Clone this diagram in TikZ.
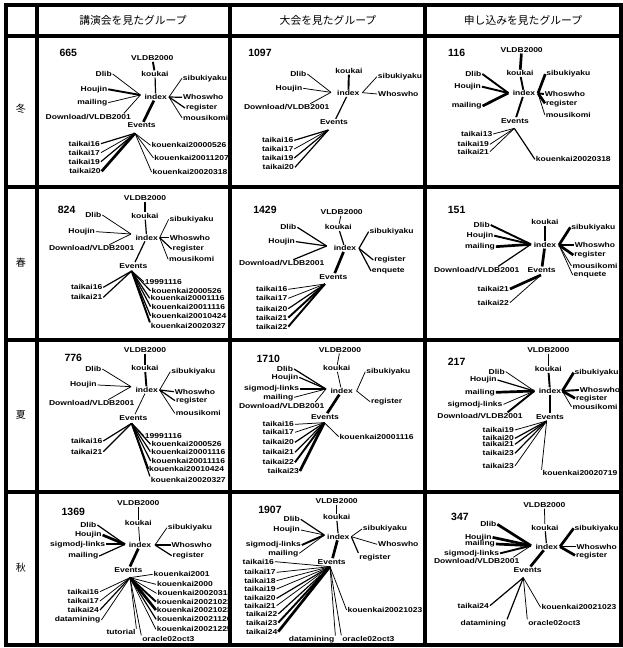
\documentclass[tikz,border=0pt]{standalone}
\usepackage{fontspec}
\setmainfont{Liberation Sans}
\newfontfamily\labfont{Liberation Sans}[FakeStretch=1.2]
\newfontfamily\numfont{Liberation Sans}
\newfontfamily\cjkfont{Noto Sans CJK JP}
\tikzset{
 lab/.style={font=\labfont\bfseries\fontsize{7.1}{8}\selectfont, inner sep=0.8pt},
 num/.style={font=\numfont\bfseries\fontsize{10.5}{11}\selectfont, inner sep=0pt},
 e1/.style={line width=0.75pt},
 e2/.style={line width=1.2pt},
 e3/.style={line width=1.9pt},
 e4/.style={line width=2.7pt},
 gridline/.style={line width=3.4pt},
 hdr/.style={font=\cjkfont\fontsize{10.8}{12}\selectfont},
 rowl/.style={font=\cjkfont\fontsize{10}{11}\selectfont},
 cell/.style={x=0.3333pt,y=-0.3333pt}
}
\begin{document}
\begin{tikzpicture}[x=1pt,y=-1pt]
\useasboundingbox (0,0) rectangle (623,648);
% grid
\foreach \yy in {5,36,187,340,492,645} \draw[gridline] (4,\yy) -- (623,\yy);
\foreach \xx in {6,37,230,425,621} \draw[gridline] (\xx,4) -- (\xx,646);
% headers
\node[hdr] (h1) at (133,20) {講演会を見たグループ};
\node[hdr] (h2) at (328,20) {大会を見たグループ};
\node[hdr] (h3) at (523,20) {申し込みを見たグループ};
\node[rowl] (r1) at (21,109) {冬};
\node[rowl] (r2) at (21,263) {春};
\node[rowl] (r3) at (21,415) {夏};
\node[rowl] (r4) at (21,568) {秋};

% ===== Cell A (winter, col 1)
\begin{scope}[shift={(35,35)},cell]
\node[num] (A-n) at (100,55) {665};
\node[lab] (A-vldb) at (352,70) {VLDB2000};
\node[lab] (A-kou) at (360,117) {koukai};
\node[lab] (A-dlib) at (206,117) {Dlib};
\node[lab] (A-hou) at (177,163) {Houjin};
\node[lab] (A-mail) at (172,203) {mailing};
\node[lab] (A-dl) at (160,246) {Download/VLDB2001};
\node[lab] (A-idx) at (362,186) {index};
\node[lab] (A-sibu) at (510,130) {sibukiyaku};
\node[lab] (A-who) at (505,187) {Whoswho};
\node[lab] (A-reg) at (500,219) {register};
\node[lab] (A-mou) at (512,249) {mousikomi};
\node[lab] (A-ev) at (320,271) {Events};
\node[lab] (A-t16) at (148,326) {taikai16};
\node[lab] (A-t17) at (148,353) {taikai17};
\node[lab] (A-t19) at (148,380) {taikai19};
\node[lab] (A-t20) at (150,409) {taikai20};
\node[lab] (A-k1) at (462,331) {kouenkai20000526};
\node[lab] (A-k2) at (470,369) {kouenkai20011207};
\node[lab] (A-k3) at (465,411) {kouenkai20020318};
\coordinate (A-iL) at (316,180);
\coordinate (A-iR) at (402,186);
\coordinate (A-eH) at (300,295);
\draw[e3] (A-vldb) -- (A-kou);
\draw[e2] (A-kou) -- (A-idx);
\draw[e1] (A-dlib.east) -- (A-iL);
\draw[e3] (A-hou.east) -- (A-iL);
\draw[e1] (A-mail.east) -- (A-iL);
\draw[e1] ([xshift=-8pt]A-dl.north east) -- (A-iL);
\draw[e1] (A-iR) -- (A-sibu.west);
\draw[e2] (A-iR) -- (A-who.west);
\draw[e2] (A-iR) -- (A-reg.west);
\draw[e1] (A-iR) -- (A-mou.west);
\draw[e4] (A-idx) -- (A-ev);
\draw[e2] (A-eH) -- (A-t16.east);
\draw[e1] (A-eH) -- (A-t17.east);
\draw[e2] (A-eH) -- (A-t19.east);
\draw[e4] (A-eH) -- (A-t20.east);
\draw[e1] (A-eH) -- (A-k1.west);
\draw[e1] (A-eH) -- (A-k2.west);
\draw[e1] (A-eH) -- (A-k3.west);
\end{scope}

% ===== Cell B (winter, col 2)
\begin{scope}[shift={(230,35)},cell]
\node[num] (B-n) at (90,55) {1097};
\node[lab] (B-kou) at (357,108) {koukai};
\node[lab] (B-dlib) at (205,117) {Dlib};
\node[lab] (B-hou) at (177,160) {Houjin};
\node[lab] (B-dl) at (170,217) {Download/VLDB2001};
\node[lab] (B-idx) at (355,175) {index};
\node[lab] (B-sibu) at (510,125) {sibukiyaku};
\node[lab] (B-who) at (505,177) {Whoswho};
\node[lab] (B-ev) at (312,262) {Events};
\node[lab] (B-t16) at (143,316) {taikai16};
\node[lab] (B-t17) at (143,342) {taikai17};
\node[lab] (B-t19) at (143,369) {taikai19};
\node[lab] (B-t20) at (145,397) {taikai20};
\coordinate (B-iL) at (303,172);
\coordinate (B-iR) at (397,173);
\coordinate (B-eH) at (295,285);
\draw[e3] (B-kou) -- (B-idx);
\draw[e1] (B-dlib.east) -- (B-iL);
\draw[e1] (B-hou.east) -- (B-iL);
\draw[e1] ([xshift=-20pt]B-dl.north east) -- (B-iL);
\draw[e1] (B-iR) -- (B-sibu.west);
\draw[e1] (B-iR) -- (B-who.west);
\draw[e2] (B-idx) -- (B-ev);
\draw[e2] (B-eH) -- (B-t16.east);
\draw[e1] (B-eH) -- (B-t17.east);
\draw[e2] (B-eH) -- (B-t19.east);
\draw[e2] (B-eH) -- (B-t20.east);
\end{scope}

% ===== Cell C (winter, col 3)
\begin{scope}[shift={(425,35)},cell]
\node[num] (C-n) at (95,55) {116};
\node[lab] (C-vldb) at (290,45) {VLDB2000};
\node[lab] (C-kou) at (285,115) {koukai};
\node[lab] (C-dlib) at (145,117) {Dlib};
\node[lab] (C-hou) at (128,155) {Houjin};
\node[lab] (C-mail) at (125,213) {mailing};
\node[lab] (C-idx) at (297,175) {index};
\node[lab] (C-sibu) at (430,117) {sibukiyaku};
\node[lab] (C-who) at (420,177) {Whoswho};
\node[lab] (C-reg) at (410,205) {register};
\node[lab] (C-mou) at (430,240) {mousikomi};
\node[lab] (C-ev) at (270,257) {Events};
\node[lab] (C-t13) at (155,297) {taikai13};
\node[lab] (C-t19) at (145,328) {taikai19};
\node[lab] (C-t21) at (145,350) {taikai21};
\node[lab] (C-k) at (445,373) {kouenkai20020318};
\coordinate (C-iL) at (250,174);
\coordinate (C-iR) at (339,175);
\coordinate (C-eH) at (268,280);
\draw[e4] (C-vldb) -- (C-kou);
\draw[e3] (C-kou) -- (C-idx);
\draw[e3] (C-dlib.east) -- (C-iL);
\draw[e3] (C-hou.east) -- (C-iL);
\draw[e4] (C-mail.east) -- (C-iL);
\draw[e4] (C-iR) -- (C-sibu.west);
\draw[e3] (C-iR) -- (C-who.west);
\draw[e4] (C-iR) -- (C-reg.west);
\draw[e1] (C-iR) -- (C-mou.west);
\draw[e3] (C-idx) -- (C-ev);
\draw[e1] (C-eH) -- (C-t13.east);
\draw[e1] (C-eH) -- (C-t19.east);
\draw[e1] (C-eH) -- (C-t21.east);
\draw[e2] (C-eH) -- (C-k.west);
\end{scope}

% ===== Cell D (spring, col 1)
\begin{scope}[shift={(35,190)},cell]
\node[num] (D-n) at (95,60) {824};
\node[lab] (D-vldb) at (330,25) {VLDB2000};
\node[lab] (D-kou) at (330,78) {koukai};
\node[lab] (D-dlib) at (175,75) {Dlib};
\node[lab] (D-hou) at (140,125) {Houjin};
\node[lab] (D-dl) at (170,175) {Download/VLDB2001};
\node[lab] (D-idx) at (335,143) {index};
\node[lab] (D-sibu) at (470,88) {sibukiyaku};
\node[lab] (D-who) at (465,143) {Whoswho};
\node[lab] (D-reg) at (460,177) {register};
\node[lab] (D-mou) at (470,208) {mousikomi};
\node[lab] (D-ev) at (295,227) {Events};
\node[lab] (D-k0) at (385,275) {19991116};
\node[lab] (D-k1) at (455,303) {kouenkai2000526};
\node[lab] (D-k2) at (458,325) {kouenkai20001116};
\node[lab] (D-k3) at (460,350) {kouenkai20011116};
\node[lab] (D-k4) at (462,378) {kouenkai20010424};
\node[lab] (D-k5) at (460,408) {kouenkai20020327};
\node[lab] (D-t16) at (155,292) {taikai16};
\node[lab] (D-t21) at (155,322) {taikai21};
\coordinate (D-iL) at (288,132);
\coordinate (D-iR) at (374,143);
\coordinate (D-eH) at (290,243);
\draw[e2] (D-vldb) -- (D-kou);
\draw[e2] (D-kou) -- (D-idx);
\draw[e1] (D-dlib.east) -- (D-iL);
\draw[e1] (D-hou.east) -- (D-iL);
\draw[e1] ([xshift=-26pt]D-dl.north east) -- (D-iL);
\draw[e1] (D-iR) -- (D-sibu.west);
\draw[e2] (D-iR) -- (D-who.west);
\draw[e2] (D-iR) -- (D-reg.west);
\draw[e1] (D-iR) -- (D-mou.west);
\draw[e2] (D-idx) -- (D-ev);
\draw[e2] (D-eH) -- (D-t16.east);
\draw[e2] (D-eH) -- (D-t21.east);
\draw[e1] (D-eH) -- (D-k0.west);
\draw[e2] (D-eH) -- (D-k1.west);
\draw[e2] (D-eH) -- (D-k2.west);
\draw[e2] (D-eH) -- (D-k3.west);
\draw[e2] (D-eH) -- (D-k4.west);
\draw[e3] (D-eH) -- (D-k5.north west);
\end{scope}

% ===== Cell E (spring, col 2)
\begin{scope}[shift={(230,190)},cell]
\node[num] (E-n) at (105,60) {1429};
\node[lab] (E-vldb) at (335,67) {VLDB2000};
\node[lab] (E-kou) at (325,112) {koukai};
\node[lab] (E-dlib) at (175,112) {Dlib};
\node[lab] (E-hou) at (155,155) {Houjin};
\node[lab] (E-dl) at (155,220) {Download/VLDB2001};
\node[lab] (E-idx) at (345,175) {index};
\node[lab] (E-sibu) at (485,125) {sibukiyaku};
\node[lab] (E-reg) at (480,210) {register};
\node[lab] (E-enq) at (475,243) {enquete};
\node[lab] (E-ev) at (310,260) {Events};
\node[lab] (E-t16) at (125,298) {taikai16};
\node[lab] (E-t17) at (125,325) {taikai17};
\node[lab] (E-t20) at (125,356) {taikai20};
\node[lab] (E-t21) at (125,383) {taikai21};
\node[lab] (E-t22) at (125,410) {taikai22};
\coordinate (E-iL) at (290,168);
\coordinate (E-iR) at (387,175);
\coordinate (E-eH) at (285,282);
\draw[e1] (E-vldb) -- (E-kou);
\draw[e2] (E-kou) -- (E-idx);
\draw[e2] (E-dlib.east) -- (E-iL);
\draw[e2] (E-hou.east) -- (E-iL);
\draw[e2] ([xshift=-32pt]E-dl.north east) -- (E-iL);
\draw[e2] (E-iR) -- (E-sibu.west);
\draw[e2] (E-iR) -- (E-reg.west);
\draw[e2] (E-iR) -- (E-enq.west);
\draw[e4] (E-idx) -- (E-ev);
\draw[e1] (E-eH) -- (E-t16.east);
\draw[e1] (E-eH) -- (E-t17.east);
\draw[e2] (E-eH) -- (E-t20.east);
\draw[e3] (E-eH) -- (E-t21.east);
\draw[e3] (E-eH) -- (E-t22.east);
\end{scope}

% ===== Cell F (spring, col 3)
\begin{scope}[shift={(425,190)},cell]
\node[num] (F-n) at (95,60) {151};
\node[lab] (F-kou) at (360,97) {koukai};
\node[lab] (F-dlib) at (170,105) {Dlib};
\node[lab] (F-hou) at (165,137) {Houjin};
\node[lab] (F-mail) at (165,170) {mailing};
\node[lab] (F-dl) at (155,240) {Download/VLDB2001};
\node[lab] (F-idx) at (360,165) {index};
\node[lab] (F-sibu) at (505,112) {sibukiyaku};
\node[lab] (F-who) at (510,165) {Whoswho};
\node[lab] (F-reg) at (495,195) {register};
\node[lab] (F-mou) at (510,228) {mousikomi};
\node[lab] (F-enq) at (495,255) {enquete};
\node[lab] (F-ev) at (350,240) {Events};
\node[lab] (F-t21) at (205,297) {taikai21};
\node[lab] (F-t22) at (205,338) {taikai22};
\coordinate (F-iL) at (318,163);
\coordinate (F-iR) at (402,165);
\coordinate (F-eH) at (348,255);
\draw[e2] (F-kou) -- (F-idx);
\draw[e3] (F-dlib.east) -- (F-iL);
\draw[e3] (F-hou.east) -- (F-iL);
\draw[e4] (F-mail.east) -- (F-iL);
\draw[e2] ([xshift=-22pt]F-dl.north east) -- (F-iL);
\draw[e4] (F-iR) -- (F-sibu.west);
\draw[e3] (F-iR) -- (F-who.west);
\draw[e4] (F-iR) -- (F-reg.west);
\draw[e1] (F-iR) -- (F-mou.west);
\draw[e1] (F-iR) -- (F-enq.west);
\draw[e4] (F-idx) -- (F-ev);
\draw[e4] (F-eH) -- (F-t21.east);
\draw[e1] (F-eH) -- (F-t22.east);
\end{scope}

% ===== Cell G (summer, col 1)
\begin{scope}[shift={(35,335)},cell]
\node[num] (G-n) at (115,70) {776};
\node[lab] (G-vldb) at (330,45) {VLDB2000};
\node[lab] (G-kou) at (330,100) {koukai};
\node[lab] (G-dlib) at (175,102) {Dlib};
\node[lab] (G-hou) at (145,150) {Houjin};
\node[lab] (G-dl) at (170,205) {Download/VLDB2001};
\node[lab] (G-idx) at (335,165) {index};
\node[lab] (G-sibu) at (475,110) {sibukiyaku};
\node[lab] (G-who) at (480,170) {Whoswho};
\node[lab] (G-reg) at (470,197) {register};
\node[lab] (G-mou) at (490,235) {mousikomi};
\node[lab] (G-ev) at (295,248) {Events};
\node[lab] (G-k0) at (385,302) {19991116};
\node[lab] (G-k1) at (455,328) {kouenkai2000526};
\node[lab] (G-k2) at (460,350) {kouenkai20001116};
\node[lab] (G-k3) at (460,378) {kouenkai20011116};
\node[lab] (G-k4) at (455,402) {kouenkai20010424};
\node[lab] (G-k5) at (460,435) {kouenkai20020327};
\node[lab] (G-t16) at (155,318) {taikai16};
\node[lab] (G-t21) at (155,350) {taikai21};
\coordinate (G-iL) at (288,155);
\coordinate (G-iR) at (374,165);
\coordinate (G-eH) at (290,265);
\draw[e3] (G-vldb) -- (G-kou);
\draw[e3] (G-kou) -- (G-idx);
\draw[e1] (G-dlib.east) -- (G-iL);
\draw[e1] (G-hou.east) -- (G-iL);
\draw[e1] ([xshift=-27pt]G-dl.north east) -- (G-iL);
\draw[e1] (G-iR) -- (G-sibu.west);
\draw[e2] (G-iR) -- (G-who.west);
\draw[e2] (G-iR) -- (G-reg.west);
\draw[e1] (G-iR) -- (G-mou.west);
\draw[e1] (G-idx) -- (G-ev);
\draw[e2] (G-eH) -- (G-t16.east);
\draw[e2] (G-eH) -- (G-t21.east);
\draw[e1] (G-eH) -- (G-k0.west);
\draw[e2] (G-eH) -- (G-k1.west);
\draw[e2] (G-eH) -- (G-k2.west);
\draw[e2] (G-eH) -- (G-k3.west);
\draw[e3] (G-eH) -- (G-k4.west);
\draw[e2] (G-eH) -- (G-k5.north west);
\end{scope}

% ===== Cell H (summer, col 2)
\begin{scope}[shift={(230,335)},cell]
\node[num] (H-n) at (115,72) {1710};
\node[lab] (H-vldb) at (330,45) {VLDB2000};
\node[lab] (H-kou) at (320,100) {koukai};
\node[lab] (H-dlib) at (165,102) {Dlib};
\node[lab] (H-hou) at (165,127) {Houjin};
\node[lab] (H-sig) at (125,162) {sigmodj-links};
\node[lab] (H-mail) at (145,187) {mailing};
\node[lab] (H-dl) at (155,212) {Download/VLDB2001};
\node[lab] (H-idx) at (335,168) {index};
\node[lab] (H-sibu) at (475,110) {sibukiyaku};
\node[lab] (H-reg) at (470,200) {register};
\node[lab] (H-ev) at (285,245) {Events};
\node[lab] (H-t16) at (145,268) {taikai16};
\node[lab] (H-t17) at (145,292) {taikai17};
\node[lab] (H-t20) at (145,322) {taikai20};
\node[lab] (H-t21) at (145,352) {taikai21};
\node[lab] (H-t22) at (145,382) {taikai22};
\node[lab] (H-t23) at (160,408) {taikai23};
\node[lab] (H-k) at (440,305) {kouenkai20001116};
\coordinate (H-iL) at (288,162);
\coordinate (H-iR) at (380,168);
\coordinate (H-eH) at (283,263);
\draw[e1] (H-vldb) -- (H-kou);
\draw[e1] (H-kou) -- (H-idx);
\draw[e2] (H-dlib.east) -- (H-iL);
\draw[e2] (H-hou.east) -- (H-iL);
\draw[e3] (H-sig.east) -- (H-iL);
\draw[e1] (H-mail.east) -- (H-iL);
\draw[e1] ([xshift=-10pt]H-dl.north east) -- (H-iL);
\draw[e1] (H-iR) -- (H-sibu.west);
\draw[e1] (H-iR) -- (H-reg.west);
\draw[e4] (H-idx) -- (H-ev);
\draw[e1] (H-eH) -- (H-t16.east);
\draw[e1] (H-eH) -- (H-t17.east);
\draw[e2] (H-eH) -- (H-t20.east);
\draw[e2] (H-eH) -- (H-t21.east);
\draw[e3] (H-eH) -- (H-t22.east);
\draw[e4] (H-eH) -- (H-t23.east);
\draw[e1] (H-eH) -- (H-k.west);
\end{scope}

% ===== Cell I (summer, col 3)
\begin{scope}[shift={(425,335)},cell]
\node[num] (I-n) at (95,80) {217};
\node[lab] (I-vldb) at (370,45) {VLDB2000};
\node[lab] (I-kou) at (370,103) {koukai};
\node[lab] (I-dlib) at (215,110) {Dlib};
\node[lab] (I-hou) at (175,135) {Houjin};
\node[lab] (I-mail) at (165,172) {mailing};
\node[lab] (I-sig) at (150,208) {sigmodj-links};
\node[lab] (I-dl) at (165,243) {Download/VLDB2001};
\node[lab] (I-idx) at (375,168) {index};
\node[lab] (I-sibu) at (515,113) {sibukiyaku};
\node[lab] (I-who) at (525,165) {Whoswho};
\node[lab] (I-reg) at (500,190) {register};
\node[lab] (I-mou) at (510,215) {mousikomi};
\node[lab] (I-ev) at (375,245) {Events};
\node[lab] (I-t19) at (220,285) {taikai19};
\node[lab] (I-t20) at (220,310) {taikai20};
\node[lab] (I-t21) at (220,328) {taikai21};
\node[lab] (I-t23a) at (220,355) {taikai23};
\node[lab] (I-t23b) at (220,393) {taikai23};
\node[lab] (I-k) at (465,415) {kouenkai20020719};
\coordinate (I-iL) at (328,168);
\coordinate (I-iR) at (412,168);
\coordinate (I-eH) at (365,258);
\draw[e1] (I-vldb) -- (I-kou);
\draw[e3] (I-kou) -- (I-idx);
\draw[e1] (I-dlib.east) -- (I-iL);
\draw[e2] (I-hou.east) -- (I-iL);
\draw[e4] (I-mail.east) -- (I-iL);
\draw[e1] (I-sig.east) -- (I-iL);
\draw[e3] ([xshift=-16pt]I-dl.north east) -- (I-iL);
\draw[e4] (I-iR) -- (I-sibu.west);
\draw[e3] (I-iR) -- (I-who.west);
\draw[e4] (I-iR) -- (I-reg.west);
\draw[e1] (I-iR) -- (I-mou.west);
\draw[e4] (I-idx) -- (I-ev);
\draw[e1] (I-eH) -- (I-t19.east);
\draw[e2] (I-eH) -- (I-t20.east);
\draw[e2] (I-eH) -- (I-t21.east);
\draw[e2] (I-eH) -- (I-t23a.east);
\draw[e1] (I-eH) -- (I-t23b.east);
\draw[e1] (I-eH) -- (I-k.north west);
\end{scope}

% ===== Cell J (autumn, col 1)
\begin{scope}[shift={(35,485)},cell]
\node[num] (J-n) at (115,80) {1369};
\node[lab] (J-vldb) at (310,55) {VLDB2000};
\node[lab] (J-kou) at (310,115) {koukai};
\node[lab] (J-dlib) at (160,120) {Dlib};
\node[lab] (J-hou) at (160,150) {Houjin};
\node[lab] (J-sig) at (128,178) {sigmodj-links};
\node[lab] (J-mail) at (145,213) {mailing};
\node[lab] (J-idx) at (315,180) {index};
\node[lab] (J-sibu) at (465,128) {sibukiyaku};
\node[lab] (J-who) at (470,180) {Whoswho};
\node[lab] (J-reg) at (460,212) {register};
\node[lab] (J-ev) at (280,255) {Events};
\node[lab] (J-ka) at (440,268) {kouenkai2001};
\node[lab] (J-kb) at (450,298) {kouenkai2000};
\node[lab] (J-kc) at (480,325) {kouenkai20020318};
\node[lab] (J-kd) at (478,350) {kouenkai20021021};
\node[lab] (J-ke) at (478,375) {kouenkai20021023};
\node[lab] (J-kf) at (478,403) {kouenkai20021126};
\node[lab] (J-kg) at (478,433) {kouenkai20021225};
\node[lab] (J-ora) at (400,462) {oracle02oct3};
\node[lab] (J-tut) at (258,442) {tutorial};
\node[lab] (J-t16) at (145,320) {taikai16};
\node[lab] (J-t17) at (145,348) {taikai17};
\node[lab] (J-t24) at (145,375) {taikai24};
\node[lab] (J-dm) at (128,405) {datamining};
\coordinate (J-iL) at (270,178);
\coordinate (J-iR) at (360,180);
\coordinate (J-eH) at (285,278);
\draw[e1] (J-vldb) -- (J-kou);
\draw[e1] (J-kou) -- (J-idx);
\draw[e2] (J-dlib.east) -- (J-iL);
\draw[e4] (J-hou.east) -- (J-iL);
\draw[e3] (J-sig.east) -- (J-iL);
\draw[e2] (J-mail.east) -- (J-iL);
\draw[e1] (J-iR) -- (J-sibu.west);
\draw[e2] (J-iR) -- (J-who.west);
\draw[e2] (J-iR) -- (J-reg.west);
\draw[e4] (J-idx) -- (J-ev);
\draw[e1] (J-eH) -- (J-ka.west);
\draw[e1] (J-eH) -- (J-kb.west);
\draw[e1] (J-eH) -- (J-kc.west);
\draw[e3] (J-eH) -- (J-kd.west);
\draw[e4] (J-eH) -- (J-ke.west);
\draw[e2] (J-eH) -- (J-kf.west);
\draw[e1] (J-eH) -- (J-kg.west);
\draw[e1] (J-eH) -- (J-ora.north west);
\draw[e1] (J-eH) -- (J-tut.north east);
\draw[e1] (J-eH) -- (J-t16.east);
\draw[e1] (J-eH) -- (J-t17.east);
\draw[e2] (J-eH) -- (J-t24.east);
\draw[e1] (J-eH) -- (J-dm.east);
\end{scope}

% ===== Cell K (autumn, col 2)
\begin{scope}[shift={(230,485)},cell]
\node[num] (K-n) at (120,75) {1907};
\node[lab] (K-vldb) at (320,48) {VLDB2000};
\node[lab] (K-kou) at (320,97) {koukai};
\node[lab] (K-dlib) at (185,103) {Dlib};
\node[lab] (K-hou) at (170,135) {Houjin};
\node[lab] (K-sig) at (130,180) {sigmodj-links};
\node[lab] (K-mail) at (160,205) {mailing};
\node[lab] (K-idx) at (325,155) {index};
\node[lab] (K-sibu) at (465,132) {sibukiyaku};
\node[lab] (K-who) at (505,178) {Whoswho};
\node[lab] (K-reg) at (435,217) {register};
\node[lab] (K-ev) at (305,230) {Events};
\node[lab] (K-t16) at (85,230) {taikai16};
\node[lab] (K-t17) at (90,262) {taikai17};
\node[lab] (K-t18) at (90,287) {taikai18};
\node[lab] (K-t19) at (90,312) {taikai19};
\node[lab] (K-t20) at (90,340) {taikai20};
\node[lab] (K-t21) at (90,362) {taikai21};
\node[lab] (K-t22) at (95,387) {taikai22};
\node[lab] (K-t23) at (95,413) {taikai23};
\node[lab] (K-t24) at (95,440) {taikai24};
\node[lab] (K-k) at (465,375) {kouenkai20021023};
\node[lab] (K-dm) at (245,465) {datamining};
\node[lab] (K-ora) at (415,462) {oracle02oct3};
\coordinate (K-iL) at (283,150);
\coordinate (K-iR) at (364,155);
\coordinate (K-eH) at (300,245);
\draw[e1] (K-vldb) -- (K-kou);
\draw[e2] (K-kou) -- (K-idx);
\draw[e2] (K-dlib.east) -- (K-iL);
\draw[e1] (K-hou.east) -- (K-iL);
\draw[e3] (K-sig.east) -- (K-iL);
\draw[e1] (K-mail.east) -- (K-iL);
\draw[e1] (K-iR) -- (K-sibu.west);
\draw[e1] (K-iR) -- (K-who.west);
\draw[e2] (K-iR) -- (K-reg.north west);
\draw[e4] (K-idx) -- (K-ev);
\draw[e1] (K-eH) -- (K-t16.east);
\draw[e1] (K-eH) -- (K-t17.east);
\draw[e1] (K-eH) -- (K-t18.east);
\draw[e1] (K-eH) -- (K-t19.east);
\draw[e2] (K-eH) -- (K-t20.east);
\draw[e1] (K-eH) -- (K-t21.east);
\draw[e2] (K-eH) -- (K-t22.east);
\draw[e3] (K-eH) -- (K-t23.east);
\draw[e4] (K-eH) -- (K-t24.east);
\draw[e1] (K-eH) -- (K-k.west);
\draw[e1] (K-eH) -- (K-dm.north east);
\draw[e1] (K-eH) -- (K-ora.north west);
\end{scope}

% ===== Cell L (autumn, col 3)
\begin{scope}[shift={(425,485)},cell]
\node[num] (L-n) at (105,97) {347};
\node[lab] (L-vldb) at (358,60) {VLDB2000};
\node[lab] (L-kou) at (360,128) {koukai};
\node[lab] (L-dlib) at (190,118) {Dlib};
\node[lab] (L-hou) at (160,157) {Houjin};
\node[lab] (L-mail) at (165,177) {mailing};
\node[lab] (L-sig) at (140,205) {sigmodj-links};
\node[lab] (L-dl) at (155,228) {Download/VLDB2001};
\node[lab] (L-idx) at (365,185) {index};
\node[lab] (L-sibu) at (515,130) {sibukiyaku};
\node[lab] (L-who) at (515,185) {Whoswho};
\node[lab] (L-reg) at (500,211) {register};
\node[lab] (L-ev) at (308,255) {Events};
\node[lab] (L-t24) at (145,362) {taikai24};
\node[lab] (L-k) at (462,367) {kouenkai20021023};
\node[lab] (L-dm) at (175,416) {datamining};
\node[lab] (L-ora) at (388,414) {oracle02oct3};
\coordinate (L-iL) at (318,182);
\coordinate (L-iR) at (405,185);
\coordinate (L-eH) at (295,278);
\draw[e1] (L-vldb) -- (L-kou);
\draw[e2] (L-kou) -- (L-idx);
\draw[e4] (L-dlib.east) -- (L-iL);
\draw[e4] (L-hou.east) -- (L-iL);
\draw[e4] (L-mail.east) -- (L-iL);
\draw[e3] (L-sig.east) -- (L-iL);
\draw[e1] ([xshift=-7pt]L-dl.north east) -- (L-iL);
\draw[e4] (L-iR) -- (L-sibu.west);
\draw[e1] (L-iR) -- (L-who.west);
\draw[e4] (L-iR) -- (L-reg.west);
\draw[e4] (L-idx) -- (L-ev);
\draw[e2] (L-eH) -- (L-t24.east);
\draw[e2] (L-eH) -- (L-dm.north east);
\draw[e1] (L-eH) -- (L-k.west);
\draw[e1] (L-eH) -- (L-ora.north west);
\end{scope}
\end{tikzpicture}
\end{document}
